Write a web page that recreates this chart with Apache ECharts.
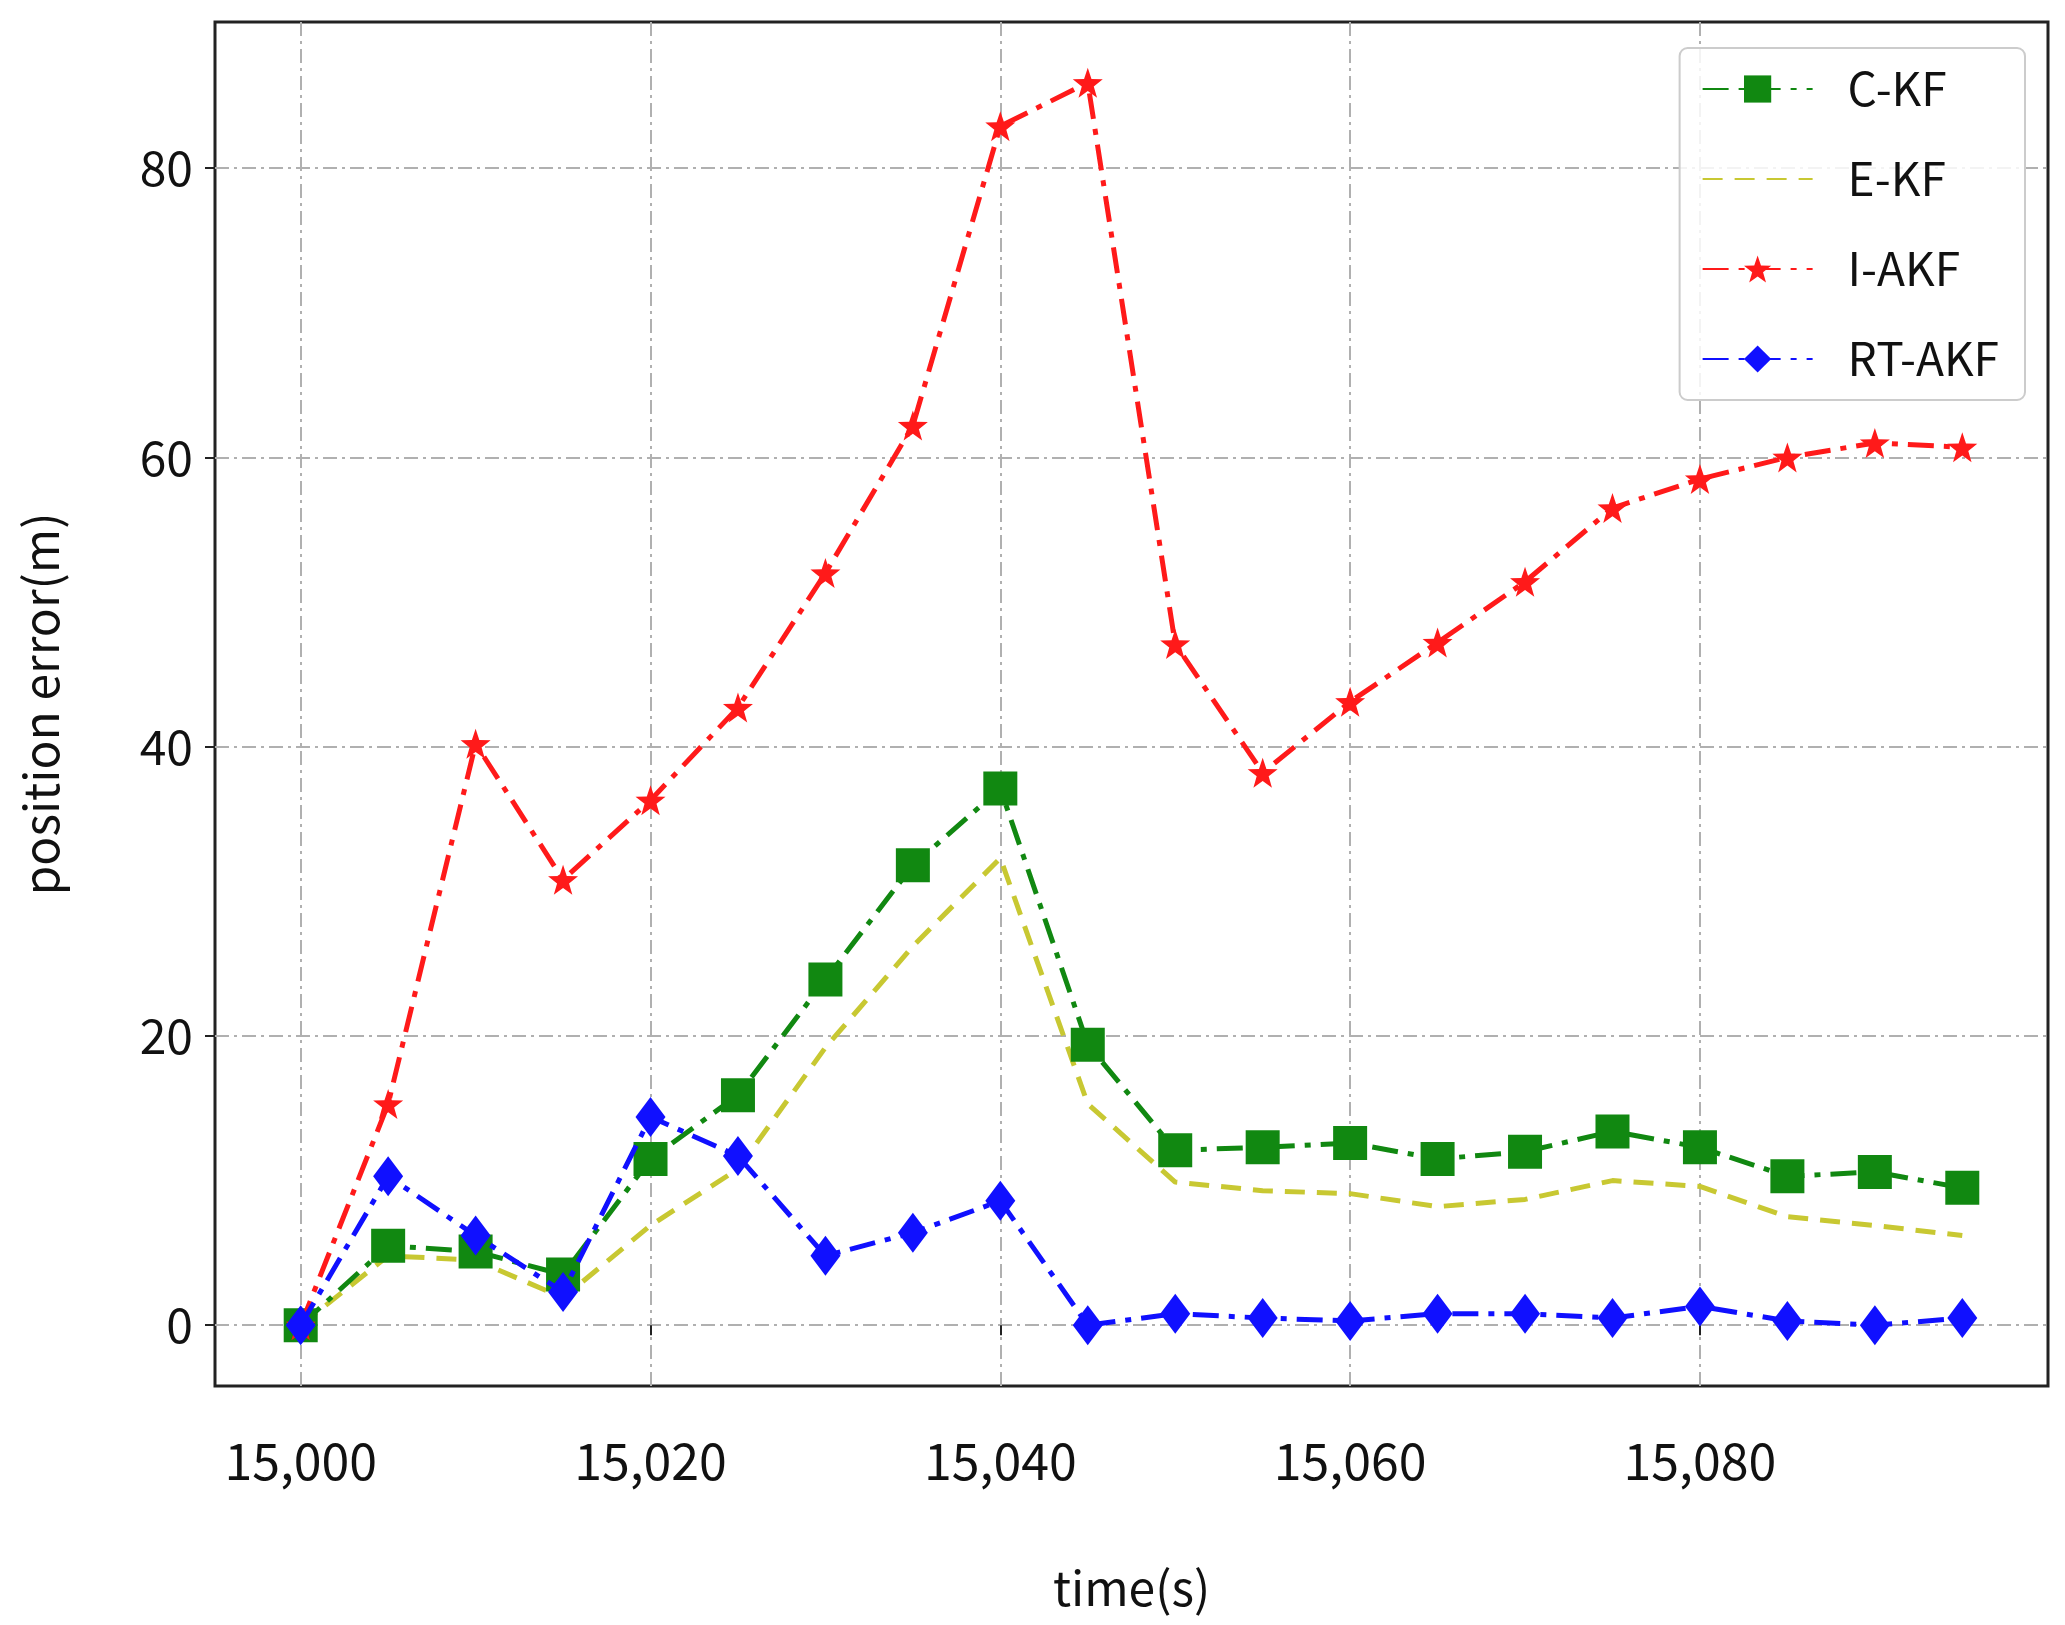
<!DOCTYPE html>
<html><head><meta charset="utf-8">
<script src="https://cdn.jsdelivr.net/npm/echarts@6/dist/echarts.min.js"></script>
<style>html,body{margin:0;background:#fff}#c{width:2065px;height:1625px}</style>
</head><body><div id="c"></div>
<script>
const times = [15000,15005,15010,15015,15020,15025,15030,15035,15040,15045,15050,15055,15060,15065,15070,15075,15080,15085,15090,15095];
const ckf = [0,5.5,5.1,3.5,11.5,15.9,23.9,31.8,37.1,19.4,12.1,12.3,12.6,11.5,12,13.4,12.3,10.3,10.6,9.5];
const ekf = [0,4.8,4.5,1.9,6.9,10.8,19.2,26.2,32.3,15.3,9.9,9.3,9.1,8.2,8.7,10,9.6,7.5,6.9,6.2];
const iakf = [0,15.3,40.2,30.8,36.3,42.7,52,62.2,82.9,85.9,47.1,38.2,43.1,47.2,51.4,56.5,58.5,60,61,60.7];
const rtakf = [0,10.3,6.2,2.3,14.4,11.7,4.8,6.4,8.6,0,0.8,0.5,0.3,0.8,0.8,0.5,1.3,0.3,0,0.5];
const xTicks = [15000,15020,15040,15060,15080];
const yTicks = [0,20,40,60,80];
const F = '"Noto Sans CJK SC", "DejaVu Sans", sans-serif';
const pair = a => a.map((v,i)=>[times[i],v]);
const grid = {show:true,lineStyle:{color:'#b0b0b0',width:2,type:[14,5,3,5]}};
const dashdot = [26,10,6,10];
const chart = echarts.init(document.getElementById('c'));
chart.setOption({
  animation:false,
  textStyle:{fontFamily:F},
  grid:{left:215,right:17,top:22,bottom:239,show:true,borderColor:'#222',borderWidth:3},
  xAxis:{type:'value',min:14995.1,max:15099.9,name:'time(s)',nameLocation:'middle',nameGap:178,
    nameTextStyle:{fontSize:48,color:'#111',fontFamily:F},
    axisLine:{show:false},
    axisTick:{show:true,customValues:xTicks,length:10,lineStyle:{color:'#222',width:2}},
    axisLabel:{customValues:xTicks,fontSize:50,color:'#111',margin:50,formatter:v=>v.toLocaleString('en-US')},
    splitLine:grid},
  yAxis:{type:'value',min:-4.2,max:90.1,name:'position error(m)',nameLocation:'middle',nameGap:150,
    nameTextStyle:{fontSize:48,color:'#111',fontFamily:F},
    axisLine:{show:false},
    axisTick:{show:true,customValues:yTicks,length:10,lineStyle:{color:'#222',width:2}},
    axisLabel:{customValues:yTicks,fontSize:48,color:'#111',margin:22},
    splitLine:grid},
  legend:{orient:'vertical',right:40,top:48,itemWidth:110,itemHeight:34,itemGap:44,
    padding:[18,26,18,22],borderColor:'#ccc',borderWidth:2,borderRadius:8,backgroundColor:'rgba(255,255,255,0.85)',
    textStyle:{fontSize:46,color:'#111',fontFamily:F,padding:[0,0,0,30]},
    data:['C-KF',{name:'E-KF',itemStyle:{opacity:0}},'I-AKF','RT-AKF']},
  series:[
    {name:'E-KF',type:'line',data:pair(ekf),symbol:'none',color:'#c8c832',lineStyle:{width:5,type:[20,12]},z:2},
    {name:'C-KF',type:'line',data:pair(ckf),symbol:'rect',symbolSize:34,color:'#118811',lineStyle:{width:5,type:dashdot},z:3},
    {name:'I-AKF',type:'line',data:pair(iakf),symbol:'path://M0,-10 L2.35,-3.24 L9.51,-3.09 L3.8,1.24 L5.88,8.09 L0,4 L-5.88,8.09 L-3.8,1.24 L-9.51,-3.09 L-2.35,-3.24 Z',symbolSize:30,color:'#ff1a1a',lineStyle:{width:5,type:dashdot},z:4},
    {name:'RT-AKF',type:'line',data:pair(rtakf),symbol:'diamond',symbolSize:[30,40],color:'#1010ff',lineStyle:{width:5,type:dashdot},z:5}
  ]
});
</script></body></html>
